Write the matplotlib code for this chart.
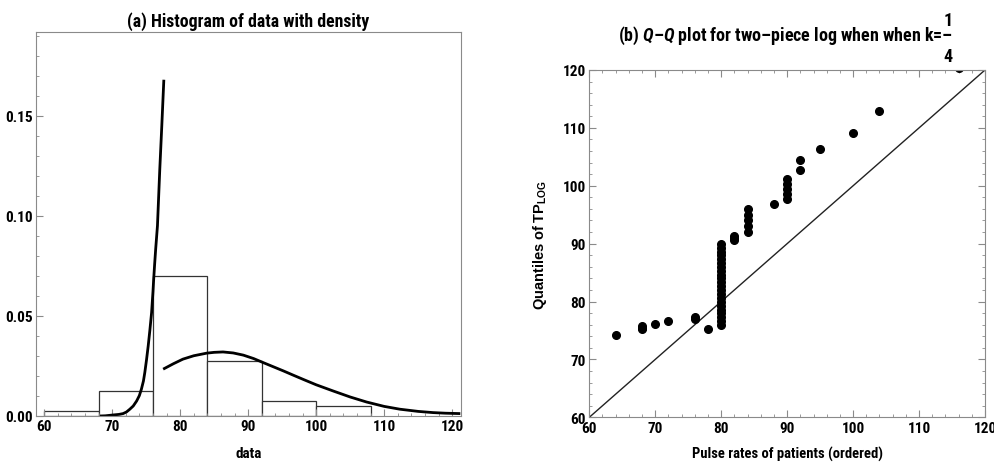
import matplotlib
matplotlib.use("Agg")
import matplotlib.pyplot as plt
from matplotlib.ticker import MultipleLocator

plt.rcParams['font.family'] = ['Roboto Condensed', 'DejaVu Sans']
plt.rcParams['font.weight'] = 'bold'
plt.rcParams['axes.titleweight'] = 'bold'
plt.rcParams['axes.labelweight'] = 'bold'
plt.rcParams['mathtext.fontset'] = 'custom'
plt.rcParams['mathtext.it'] = 'Roboto Condensed:italic:bold'
plt.rcParams['mathtext.rm'] = 'Roboto Condensed:bold'
plt.rcParams['mathtext.bf'] = 'Roboto Condensed:bold'
plt.rcParams['mathtext.sf'] = 'Liberation Sans:bold'

# ---- data: panel (a) ----
bin_edges = [60, 68, 76, 84, 92, 100, 108]
bin_density = [0.0025, 0.0125, 0.07, 0.0275, 0.0075, 0.005]

left_x = [68.2, 69.0, 70.1, 71.0, 71.6, 72.1, 72.6, 73.1, 73.6, 74.0, 74.3, 74.6, 74.8, 75.05,
          75.3, 75.55, 75.8, 76.0, 76.1, 76.25, 76.4, 76.66, 77.0, 77.3, 77.6]
left_y = [0.0, 0.0001, 0.0005, 0.0008, 0.0012, 0.002, 0.0034, 0.005, 0.0075, 0.0102, 0.0134,
          0.0175, 0.0217, 0.028, 0.035, 0.043, 0.0517, 0.062, 0.068, 0.076, 0.0834, 0.095,
          0.123, 0.145, 0.168]

right_x = [77.5, 79.0, 80.4, 82.0, 83.9, 85.0, 86.3, 87.8, 89.3, 90.8, 92.2, 93.7, 95.2, 96.7,
           98.3, 100.0, 102.5, 105.0, 107.4, 110.0, 112.3, 115.0, 117.2, 119.0, 121.2]
right_y = [0.0234, 0.0261, 0.0284, 0.0301, 0.0314, 0.0318, 0.032, 0.0315, 0.0304, 0.0287,
           0.0267, 0.0246, 0.0225, 0.0203, 0.018, 0.0156, 0.0125, 0.0095, 0.007, 0.0048,
           0.0034, 0.0023, 0.0017, 0.0014, 0.0012]

# ---- data: panel (b) ----
qq_x = [64, 68, 68, 68, 70, 72, 76, 76, 78,
        80, 80, 80, 80, 80, 80, 80, 80, 80, 80, 80, 80, 80, 80, 80, 80, 80, 80, 80, 80, 80, 80,
        82, 82, 82, 84, 84, 84, 84, 84, 88, 90, 90, 90, 90, 90, 92, 92, 95, 100, 104, 116]
qq_y = [74.2, 75.2, 75.5, 75.8, 76.1, 76.6, 76.9, 77.4, 75.2,
        76.0, 76.7, 77.3, 78.0, 78.6, 79.3, 80.0, 80.6, 81.3, 82.0, 82.6, 83.3, 84.0, 84.6,
        85.3, 86.0, 86.6, 87.3, 88.0, 88.6, 89.3, 90.0,
        90.6, 91.0, 91.4, 92.0, 93.0, 94.0, 95.0, 96.0, 96.8, 97.7, 98.5, 99.4, 100.3, 101.2,
        102.8, 104.4, 106.4, 109.2, 113.0, 120.4]
ref_line = [60, 120]

frame_col = '#8a8a8a'

fig = plt.figure(figsize=(9.95, 4.64), dpi=100)

# ---------- panel (a) ----------
ax1 = fig.add_axes([36/995, 1-417/464, (461-36)/995, (417-32.7)/464])
ax1.bar(bin_edges[:-1], bin_density, width=[b - a for a, b in zip(bin_edges[:-1], bin_edges[1:])],
        align='edge', facecolor='white', edgecolor='#333333', linewidth=0.9)
ax1.plot(left_x, left_y, color='black', lw=2.0, solid_capstyle='butt')
ax1.plot(right_x, right_y, color='black', lw=2.0, solid_capstyle='butt')
ax1.set_xlim(58.8, 121.3)
ax1.set_ylim(0, 0.192)
ax1.xaxis.set_major_locator(MultipleLocator(10))
ax1.xaxis.set_minor_locator(MultipleLocator(2))
ax1.yaxis.set_major_locator(MultipleLocator(0.05))
ax1.yaxis.set_minor_locator(MultipleLocator(0.01))
ax1.yaxis.set_major_formatter(plt.FuncFormatter(lambda v, p: f"{v:.2f}"))
ax1.tick_params(which='both', direction='in', color=frame_col, top=False, right=False,
                labelsize=11, pad=2.5)
ax1.tick_params(which='major', length=5, width=0.8)
ax1.tick_params(which='minor', length=2.5, width=0.6)
for s in ax1.spines.values():
    s.set_color(frame_col)
ax1.set_xlabel('data', fontsize=11, labelpad=9)
ax1.set_title('(a) Histogram of data with density', fontsize=12.8, pad=4)

# ---------- panel (b) ----------
ax2 = fig.add_axes([589.3/995, 1-418.3/464, (985-589.3)/995, (418.3-71)/464])
ax2.plot(ref_line, ref_line, color='#222222', lw=1.0)
ax2.plot(qq_x, qq_y, 'o', color='black', ms=5.5, clip_on=True)
ax2.set_xlim(60, 120)
ax2.set_ylim(60, 120)
ax2.xaxis.set_major_locator(MultipleLocator(10))
ax2.xaxis.set_minor_locator(MultipleLocator(2))
ax2.yaxis.set_major_locator(MultipleLocator(10))
ax2.yaxis.set_minor_locator(MultipleLocator(2))
ax2.tick_params(which='both', direction='in', color=frame_col, top=True, right=True,
                labelsize=11, pad=2.5)
ax2.tick_params(which='major', length=5, width=0.8)
ax2.tick_params(which='minor', length=2.5, width=0.6)
for s in ax2.spines.values():
    s.set_color(frame_col)
ax2.set_xlabel('Pulse rates of patients (ordered)', fontsize=10.5, labelpad=8)
ax2.set_ylabel(r'$\mathsf{Quantiles\ of\ TP}_{\mathsf{LOG}}$', fontsize=10.5, labelpad=10)

fig.text(953/995, 1-36/464, r'(b) $Q$–$Q$ plot for two–piece log when when k=–',
         ha='right', va='center', fontsize=13, fontweight='bold')
fig.text(948/995, 1-21/464, '1', ha='center', va='center', fontsize=13, fontweight='bold')
fig.text(948/995, 1-57/464, '4', ha='center', va='center', fontsize=13, fontweight='bold')

fig.savefig('out.png', dpi=100)
